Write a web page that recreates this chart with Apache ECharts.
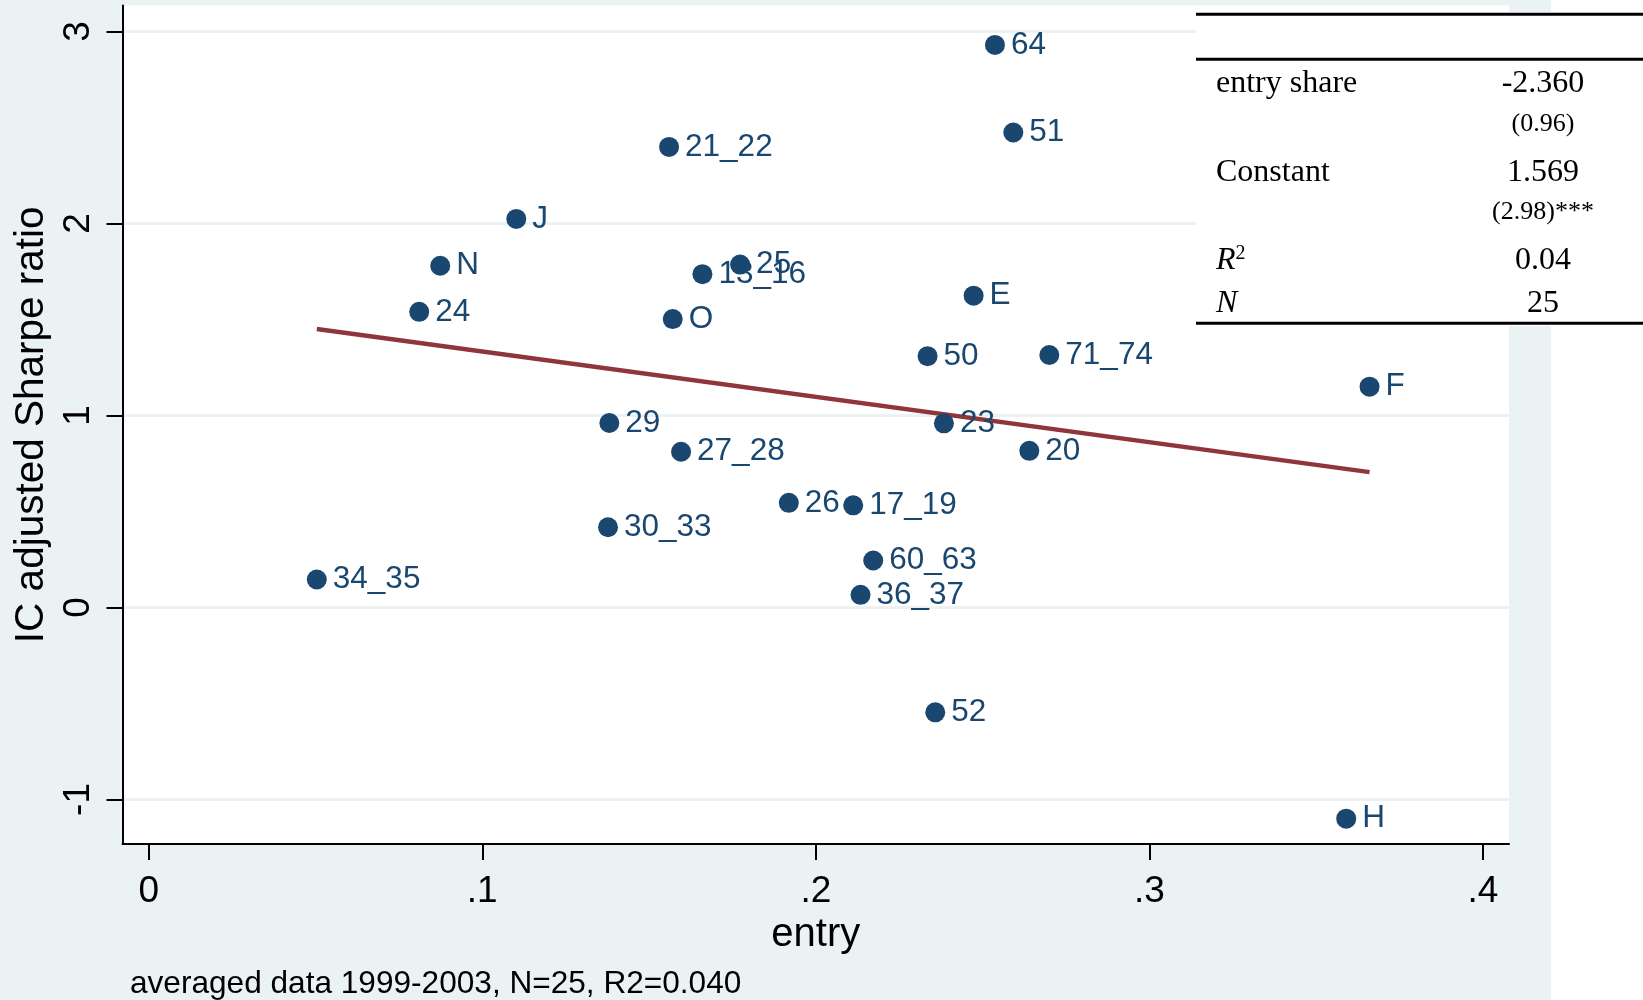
<!DOCTYPE html>
<html><head><meta charset="utf-8">
<script src="https://cdn.jsdelivr.net/npm/echarts@6/dist/echarts.min.js"></script>
<style>
html,body{margin:0;padding:0;background:#fff}
#c{width:1643px;height:1000px;background:linear-gradient(to right,#EAF2F3 0,#EAF2F3 1551px,#ffffff 1551px)}
</style>
</head><body><div id="c"></div>
<script>
// ---- data ----
const labels = ['64','51','21_22','J','N','24','13_16','25','O','E','50','71_74','F','29','23','20','27_28','26','17_19','30_33','34_35','60_63','36_37','52','H'];
const entry  = [0.2537,0.2592,0.1560,0.1102,0.0874,0.0811,0.1660,0.1773,0.1571,0.2473,0.2335,0.2700,0.3660,0.1381,0.2384,0.2640,0.1596,0.1919,0.2112,0.1377,0.0504,0.2172,0.2134,0.2358,0.3590];
const sharpe = [2.930,2.474,2.399,2.024,1.780,1.540,1.736,1.786,1.502,1.624,1.309,1.315,1.150,0.961,0.959,0.816,0.811,0.545,0.532,0.418,0.146,0.245,0.066,-0.546,-1.100];
const fitX = [0.0504, 0.3660];
const fitY = [1.450, 0.705];
const xTicks = [0, 0.1, 0.2, 0.3, 0.4];
const xTickLabels = ['0', '.1', '.2', '.3', '.4'];
const yTicks = [-1, 0, 1, 2, 3];
const yTickLabels = ['-1', '0', '1', '2', '3'];
const coefNames = ['entry share', 'Constant'];
const coefValues = ['-2.360', '1.569'];
const coefStats = ['(0.96)', '(2.98)***'];
const r2Value = '0.04';
const nValue = '25';
const xTitle = 'entry';
const yTitle = 'IC adjusted Sharpe ratio';
const note = 'averaged data 1999-2003, N=25, R2=0.040';

// ---- chart ----
const chart = echarts.init(document.getElementById('c'), null, {renderer: 'canvas'});
const SANS = 'Liberation Sans';
const SERIF = 'Liberation Serif';
const navy = '#1a476f';

const tableX = 1196, valX = 1543, lblX = 1216;
const tbl = [];
tbl.push({type:'rect', shape:{x:tableX, y:12, width:1643-tableX, height:314}, style:{fill:'#fff'}, z:10});
[14.3, 59.3, 323.3].forEach(y => tbl.push({type:'line', shape:{x1:tableX, y1:y, x2:1643, y2:y}, style:{stroke:'#000', lineWidth:3}, z:11}));
const rowC = [84, 173];
const statC = [124, 212];
coefNames.forEach((n, i) => {
  tbl.push({type:'text', x:lblX, y:rowC[i], style:{text:n, font:'32px "'+SERIF+'"', fill:'#000', align:'left', verticalAlign:'middle'}, z:12});
  tbl.push({type:'text', x:valX, y:rowC[i], style:{text:coefValues[i], font:'32px "'+SERIF+'"', fill:'#000', align:'center', verticalAlign:'middle'}, z:12});
  tbl.push({type:'text', x:valX, y:statC[i], style:{text:coefStats[i], font:'26px "'+SERIF+'"', fill:'#000', align:'center', verticalAlign:'middle'}, z:12});
});
tbl.push({type:'text', x:lblX, y:261, style:{text:'{i|R}{s|2}', rich:{i:{fontFamily:SERIF, fontStyle:'italic', fontSize:32, fill:'#000'}, s:{fontFamily:SERIF, fontSize:20, fill:'#000', verticalAlign:'top', padding:[0,0,14,0]}}, align:'left', verticalAlign:'middle'}, z:12});
tbl.push({type:'text', x:valX, y:261, style:{text:r2Value, font:'32px "'+SERIF+'"', fill:'#000', align:'center', verticalAlign:'middle'}, z:12});
tbl.push({type:'text', x:lblX, y:304, style:{text:'N', font:'italic 32px "'+SERIF+'"', fill:'#000', align:'left', verticalAlign:'middle'}, z:12});
tbl.push({type:'text', x:valX, y:304, style:{text:nValue, font:'32px "'+SERIF+'"', fill:'#000', align:'center', verticalAlign:'middle'}, z:12});
tbl.push({type:'text', x:130, y:1000, style:{text:note, font:'31.6px "'+SANS+'"', fill:'#000', align:'left', verticalAlign:'bottom'}, z:12});

const option = {
  animation: false,
  backgroundColor: 'transparent',
  grid: {left:122.5, top:5.5, width:1386.5, height:838.5, show:true, backgroundColor:'#fff', borderWidth:0, containLabel:false},
  xAxis: {
    type:'value', min:-0.00785, max:0.4078,
    name:xTitle, nameLocation:'middle', nameGap:59,
    nameTextStyle:{fontFamily:SANS, fontSize:40, color:'#000'},
    axisLine:{show:true, onZero:false, lineStyle:{color:'#000', width:2}},
    axisTick:{show:true, length:16, customValues:xTicks, lineStyle:{color:'#000', width:2}},
    axisLabel:{show:true, customValues:xTicks, margin:29, fontFamily:SANS, fontSize:37, color:'#000',
      formatter: v => { const i = xTicks.findIndex(t => Math.abs(t - v) < 1e-9); return i >= 0 ? xTickLabels[i] : ''; }},
    splitLine:{show:false}
  },
  yAxis: {
    type:'value', min:-1.2318, max:3.1354,
    name:yTitle, nameLocation:'middle', nameGap:70, nameRotate:90,
    nameTextStyle:{fontFamily:SANS, fontSize:40.5, color:'#000'},
    axisLine:{show:true, onZero:false, lineStyle:{color:'#000', width:2}},
    axisTick:{show:true, length:16, customValues:yTicks, lineStyle:{color:'#000', width:2}},
    axisLabel:{show:true, customValues:yTicks, rotate:90, margin:25, fontFamily:SANS, fontSize:37, color:'#000',
      formatter: v => { const i = yTicks.findIndex(t => Math.abs(t - v) < 1e-9); return i >= 0 ? yTickLabels[i] : ''; }},
    splitLine:{show:true, lineStyle:{color:'#EAF2F3', width:3}}
  },
  graphic: tbl,
  series: [
    {
      type:'line', z:2, silent:true, showSymbol:false,
      data: fitX.map((x, i) => [x, fitY[i]]),
      lineStyle:{color:'#90353b', width:4.5}
    },
    {
      type:'scatter', z:3, symbol:'circle', symbolSize:20,
      data: entry.map((x, i) => [x, sharpe[i], labels[i]]),
      itemStyle:{color:navy, opacity:1},
      label:{show:true, position:'right', distance:6, formatter: p => p.value[2], fontFamily:SANS, fontSize:31.5, color:navy},
      labelLayout:{hideOverlap:false}
    }
  ]
};
chart.setOption(option);
</script>
</body></html>
